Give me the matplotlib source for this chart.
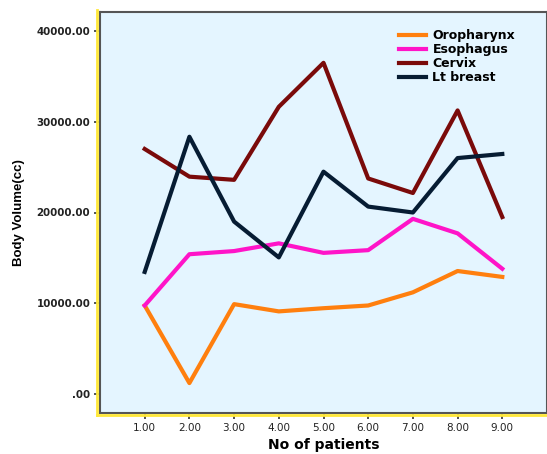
import numpy as np
import matplotlib.pyplot as plt
from matplotlib.lines import Line2D

# patients 1..9
patients = [1, 2, 3, 4, 5, 6, 7, 8, 9]
oropharynx = [9750, 1200, 9900, 9100, 9450, 9750, 11200, 13550, 12900]
esophagus = [9750, 15400, 15750, 16600, 15550, 15850, 19300, 17700, 13800]
cervix = [27000, 23950, 23600, 31650, 36500, 23750, 22150, 31250, 19500]
lt_breast = [13450, 28350, 19000, 15050, 24500, 20650, 20000, 26000, 26450]

series_names = ['Oropharynx', 'Esophagus', 'Cervix', 'Lt breast']
colors = ['#ff7f0e', '#ff14c8', '#7a0a0a', '#061c33']
x_ticks = [1, 2, 3, 4, 5, 6, 7, 8, 9]
y_ticks = [0, 10000, 20000, 30000, 40000]

plt.rcParams['font.family'] = ['Liberation Sans', 'DejaVu Sans']

fig = plt.figure(figsize=(5.47, 4.54), dpi=100)
ax = fig.add_axes([100 / 547, 1 - 413 / 454, 1 - 100 / 547, (413 - 12) / 454])
ax.set_facecolor('#e4f5ff')

for vals, name, c in zip([oropharynx, esophagus, cervix, lt_breast], series_names, colors):
    ax.plot(patients, vals, color=c, lw=3, label=name)

ax.set_xlim(0, 10)
ax.set_ylim(-2100, 42100)
ax.set_xticks(x_ticks)
ax.set_xticklabels(['%.2f' % v for v in x_ticks], fontsize=7.5, family='DejaVu Sans', color='#222222')
ax.set_yticks(y_ticks)
ax.set_yticklabels(['.00' if v == 0 else '%.2f' % v for v in y_ticks], fontsize=7.4,
                   fontweight='bold', family='DejaVu Sans', color='#222222')
ax.tick_params(direction='out', length=4, width=1.2, color='#333333', pad=3)
for s in ax.spines.values():
    s.set_color('#555555')
    s.set_linewidth(1.5)

ax.set_xlabel('No of patients', fontsize=10, fontweight='bold', family='DejaVu Sans', labelpad=4)
ax.set_ylabel('Body Volume(cc)', fontsize=9.5, fontweight='bold', labelpad=8)

leg = ax.legend(loc='upper right', bbox_to_anchor=(0.94, 0.97), frameon=False,
                prop={'weight': 'bold', 'size': 9, 'family': 'DejaVu Sans'}, handlelength=2.2,
                labelspacing=0.08, handletextpad=0.5, borderaxespad=0)

# yellow frame on the left and bottom
fig.add_artist(Line2D([97 / 547, 97 / 547], [1 - 10 / 454, 1 - 415 / 454], color='#ffe83a', lw=2))
fig.add_artist(Line2D([97 / 547, 1], [1 - 415 / 454, 1 - 415 / 454], color='#ffe83a', lw=2))

fig.savefig('out.png', dpi=100)
